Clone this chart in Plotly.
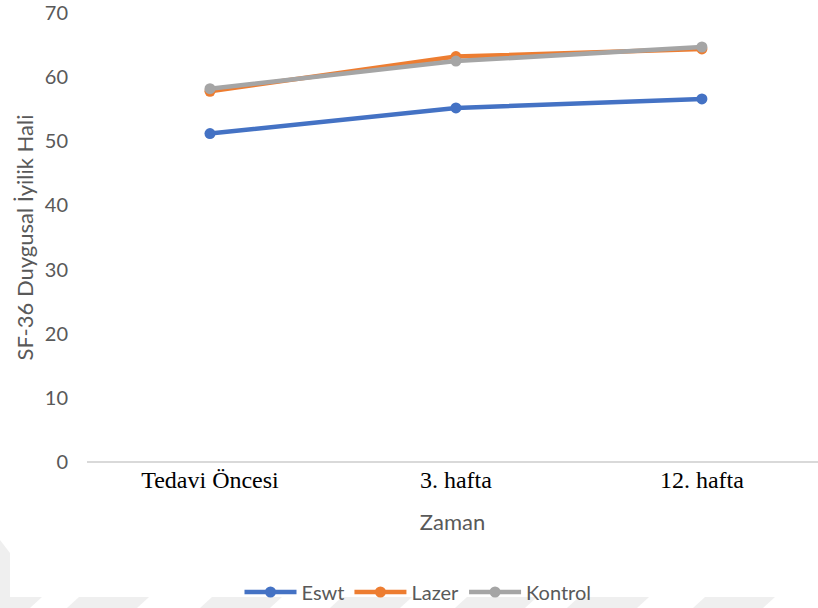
import plotly.graph_objects as go

# Measurement times and SF-36 emotional well-being means per group
categories = ["Tedavi Öncesi", "3. hafta", "12. hafta"]
eswt = [51.2, 55.2, 56.6]
lazer = [57.8, 63.2, 64.4]
kontrol = [58.2, 62.5, 64.7]

y_ticks = [0, 10, 20, 30, 40, 50, 60, 70]

W, H = 818, 608
L, R, T, B = 87, 0, 13, 146

series = [
    ("Eswt", eswt, "#4472C4"),
    ("Lazer", lazer, "#ED7D31"),
    ("Kontrol", kontrol, "#A5A5A5"),
]

fig = go.Figure()
for name, vals, color in series:
    fig.add_trace(go.Scatter(
        x=categories, y=vals, name=name, mode="lines+markers",
        line=dict(color=color, width=4.5),
        marker=dict(color=color, size=11),
    ))

# helpers to place background decoration in pixel units
pw, ph = W - L - R, H - T - B
def px(x):
    return (x - L) / pw
def py(y):
    return (H - B - y) / ph

shapes = []
gray = "#efefef"
# faint diagonal page pattern along the bottom edge and left edge
starts = [-40, 67, 200, 330, 455, 567, 693, 820]
for s in starts:
    x0, x1 = s, s + 70
    path = (f"M{px(x0)},{py(608)} L{px(x1)},{py(608)} "
            f"L{px(x1 + 12)},{py(597)} L{px(x0 + 12)},{py(597)} Z")
    shapes.append(dict(type="path", xref="paper", yref="paper", path=path,
                       fillcolor=gray, line=dict(width=0), layer="below"))
shapes.append(dict(type="path", xref="paper", yref="paper",
                   path=(f"M{px(0)},{py(540)} L{px(10)},{py(553)} L{px(10)},{py(608)} "
                         f"L{px(0)},{py(608)} Z"),
                   fillcolor=gray, line=dict(width=0), layer="below"))

fig.update_layout(
    width=W, height=H,
    margin=dict(l=L, r=R, t=T, b=B, autoexpand=False),
    paper_bgcolor="white", plot_bgcolor="white",
    font=dict(family="Lato, sans-serif", color="#595959"),
    shapes=shapes,
    xaxis=dict(
        type="category",
        range=[-0.5, 2.472],
        showgrid=False, zeroline=False,
        showline=False,
        tickfont=dict(family="Liberation Serif, Times New Roman, serif", size=24, color="#000000"),
        title=dict(text="Zaman", font=dict(size=22, color="#595959"), standoff=22),
        ticks="", ticklabelstandoff=1,
    ),
    yaxis=dict(
        range=[0, 70],
        tickvals=y_ticks,
        showgrid=False,
        zeroline=True, zerolinecolor="#D9D9D9", zerolinewidth=1.5,
        showline=False,
        tickfont=dict(size=20, color="#595959"),
        ticks="", ticklabelstandoff=18,
        title=dict(text="SF-36 Duygusal İyilik Hali", font=dict(size=22, color="#595959"), standoff=5),
    ),
    legend=dict(
        orientation="h", x=px(418), y=py(592),
        xanchor="center", yanchor="middle",
        font=dict(size=20, color="#595959"),
        itemwidth=52, tracegroupgap=0,
        bgcolor="rgba(0,0,0,0)",
    ),
)

fig.write_html("out.html")
